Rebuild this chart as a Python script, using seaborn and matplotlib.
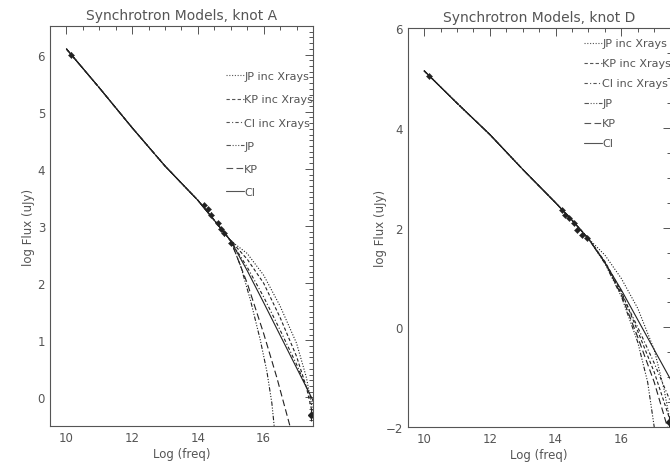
import numpy as np
import pandas as pd
import matplotlib
matplotlib.use("Agg")
import matplotlib.pyplot as plt
from matplotlib.ticker import MultipleLocator
import seaborn as sns

sns.set_style("white")
plt.rcParams['font.family'] = ['DejaVu Sans']

models = ["JP inc Xrays", "KP inc Xrays", "CI inc Xrays", "JP", "KP", "CI"]

# ---------- knot A ----------
a_common_x = [10.0, 11.0, 12.0, 13.0, 14.0, 14.5, 15.0]
a_common_y = [6.10, 5.42, 4.72, 4.05, 3.45, 3.10, 2.74]
a_tails = {
    "JP inc Xrays": ([15.5, 16.0, 16.5, 17.0, 17.3, 17.5], [2.52, 2.14, 1.60, 0.95, 0.35, -0.25]),
    "KP inc Xrays": ([15.5, 16.0, 16.5, 17.0, 17.3, 17.5], [2.42, 2.00, 1.40, 0.72, 0.18, -0.32]),
    "CI inc Xrays": ([15.5, 16.0, 16.5, 17.0, 17.5], [2.28, 1.76, 1.18, 0.58, -0.08]),
    "JP": ([15.3, 15.6, 15.9, 16.1, 16.25, 16.32], [2.30, 1.70, 1.00, 0.45, -0.10, -0.50]),
    "KP": ([15.5, 16.0, 16.4, 16.8], [2.00, 1.12, 0.35, -0.50]),
    "CI": ([15.5, 16.0, 16.5, 17.0, 17.5], [2.22, 1.66, 1.09, 0.52, -0.05]),
}
a_pts_x = [10.15, 14.2, 14.3, 14.4, 14.6, 14.7, 14.8, 15.0]
a_pts_y = [6.00, 3.36, 3.30, 3.20, 3.05, 2.95, 2.87, 2.70]
a_xray_x = [17.45]
a_xray_y = [-0.30]
a_xray_err = [0.12]

# ---------- knot D ----------
d_common_x = [10.0, 11.0, 12.0, 13.0, 14.0, 14.5, 15.0]
d_common_y = [5.15, 4.50, 3.87, 3.17, 2.50, 2.15, 1.78]
d_tails = {
    "JP inc Xrays": ([15.5, 16.0, 16.5, 17.0, 17.3, 17.5], [1.45, 0.98, 0.38, -0.45, -1.25, -1.95]),
    "KP inc Xrays": ([15.5, 16.0, 16.5, 17.0, 17.5], [1.32, 0.72, -0.08, -0.90, -1.90]),
    "CI inc Xrays": ([15.5, 16.0, 16.5, 17.0, 17.5], [1.30, 0.68, 0.00, -0.72, -1.50]),
    "JP": ([15.5, 16.0, 16.5, 16.8, 17.0], [1.28, 0.62, -0.30, -1.10, -2.00]),
    "KP": ([15.5, 16.0, 16.5, 17.0, 17.4], [1.30, 0.65, -0.20, -1.10, -2.00]),
    "CI": ([15.5, 16.0, 16.5, 17.0, 17.5], [1.30, 0.75, 0.15, -0.45, -1.05]),
}
d_pts_x = [10.15, 14.2, 14.3, 14.4, 14.55, 14.65, 14.8, 14.95]
d_pts_y = [5.05, 2.35, 2.25, 2.20, 2.10, 1.95, 1.85, 1.80]
d_xray_x = [17.45]
d_xray_y = [-1.90]
d_xray_err = [0.12]

dashes = {
    "JP inc Xrays": (1, 1.5),
    "KP inc Xrays": (3, 2),
    "CI inc Xrays": (3, 2, 1, 2),
    "JP": (4, 1.5, 1, 1.5, 1, 1.5, 1, 1.5),
    "KP": (6, 3),
    "CI": "",
}

GREY = "#555555"
LINE = "#222222"


def build(common_x, common_y, tails):
    rows = []
    for m in models:
        tx, ty = tails[m]
        for x, y in zip(list(common_x) + list(tx), list(common_y) + list(ty)):
            rows.append((m, x, y))
    return pd.DataFrame(rows, columns=["model", "freq", "flux"])


fig = plt.figure(figsize=(6.7, 4.64), dpi=100)
axA = fig.add_axes([0.0746, 0.0797, 0.3925, 0.862])
axD = fig.add_axes([0.6085, 0.0776, 0.3925, 0.859])

panels = [
    (axA, a_common_x, a_common_y, a_tails, a_pts_x, a_pts_y, a_xray_x, a_xray_y, a_xray_err,
     "Synchrotron Models, knot A", (-0.5, 6.5), 1, 0.1, (0.654, 0.898), 1.18, 2),
    (axD, d_common_x, d_common_y, d_tails, d_pts_x, d_pts_y, d_xray_x, d_xray_y, d_xray_err,
     "Synchrotron Models, knot D", (-2, 6), 2, 0.5, (0.655, 0.986), 0.9, -1),
]

for (ax, cx, cy, tails, px, py, xx, xy, xe, title, ylim, ymaj, ymin, legpos, lsp, ylp) in panels:
    df = build(cx, cy, tails)
    sns.lineplot(data=df, x="freq", y="flux", style="model", style_order=models,
                 dashes=dashes, color=LINE, lw=0.8, sort=False, estimator=None,
                 ax=ax, legend=True)
    sns.scatterplot(x=px, y=py, marker="D", s=10, color=LINE, edgecolor=LINE, ax=ax, zorder=5)
    ax.errorbar(px, py, yerr=0.04, fmt="none", ecolor=LINE, elinewidth=0.8)
    ax.errorbar(xx, xy, yerr=xe, fmt="D", ms=3, color=LINE, elinewidth=0.8, capsize=0)
    ax.set_xlim(9.5, 17.5)
    ax.set_ylim(*ylim)
    ax.xaxis.set_major_locator(MultipleLocator(2))
    ax.xaxis.set_minor_locator(MultipleLocator(0.5))
    ax.yaxis.set_major_locator(MultipleLocator(ymaj))
    ax.yaxis.set_minor_locator(MultipleLocator(ymin))
    ax.tick_params(which="both", direction="in", top=True, right=True,
                   colors=GREY, labelcolor=GREY, labelsize=8.5, width=0.7)
    ax.tick_params(which="major", length=6)
    ax.tick_params(which="minor", length=3)
    for s in ax.spines.values():
        s.set_color(GREY)
        s.set_linewidth(0.8)
    ax.set_title(title, color=GREY, fontsize=10, pad=5)
    ax.set_xlabel("Log (freq)", color=GREY, fontsize=8.5, labelpad=2)
    ax.set_ylabel("log Flux (uJy)", color=GREY, fontsize=8.5, labelpad=ylp)
    leg = ax.legend(loc="upper left", bbox_to_anchor=legpos, frameon=False,
                    handlelength=1.6, handletextpad=0.0, labelspacing=lsp,
                    fontsize=8, borderaxespad=0)
    for t in leg.get_texts():
        t.set_color(GREY)
    for h in leg.get_lines():
        h.set_color(GREY)
        h.set_linewidth(0.8)

fig.savefig("out.png", dpi=100)
